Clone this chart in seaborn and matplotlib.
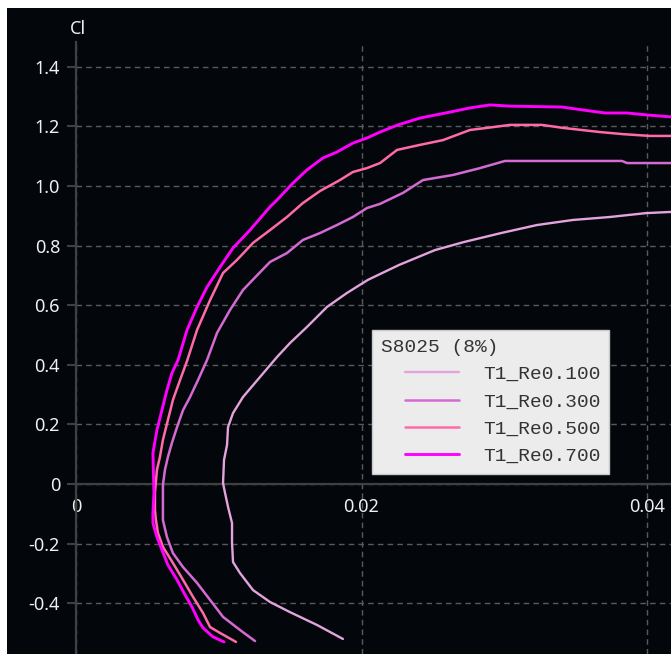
import numpy as np
import pandas as pd
import matplotlib
matplotlib.use("Agg")
import matplotlib.pyplot as plt
import seaborn as sns
from matplotlib.lines import Line2D
from matplotlib.patches import Rectangle
from matplotlib.legend_handler import HandlerLine2D
from matplotlib.font_manager import FontProperties

# ---------------- data (Cd, Cl) ----------------
series_labels = ["T1_Re0.100", "T1_Re0.300", "T1_Re0.500", "T1_Re0.700"]
series_colors = ["#e3a3dc", "#d46ad2", "#ff6aa8", "#ff00ff"]
legend_title = "S8025 (8%)"

cd_re100 = [0.01870, 0.01688, 0.01499, 0.01359, 0.01240, 0.01149, 0.01100, 0.01093, 0.01093,
            0.01065, 0.01044, 0.01030, 0.01037, 0.01058, 0.01065, 0.01100, 0.01170, 0.01289,
            0.01408, 0.01499, 0.01618, 0.01758, 0.01898, 0.02045, 0.02263, 0.02515, 0.02718,
            0.02977, 0.03229, 0.03481, 0.03741, 0.03993, 0.04168, 0.04350]
cl_re100 = [-0.520, -0.473, -0.430, -0.396, -0.356, -0.299, -0.262, -0.198, -0.131,
            -0.077, -0.030, 0.003, 0.081, 0.131, 0.191, 0.238, 0.292, 0.359,
            0.426, 0.473, 0.527, 0.594, 0.641, 0.685, 0.735, 0.785, 0.812,
            0.842, 0.869, 0.886, 0.896, 0.909, 0.913, 0.918]

cd_re300 = [0.01254, 0.01149, 0.01030, 0.00939, 0.00848, 0.00750, 0.00679, 0.00637, 0.00609,
            0.00609, 0.00609, 0.00623, 0.00644, 0.00672, 0.00708, 0.00750, 0.00799, 0.00855,
            0.00918, 0.00988, 0.01079, 0.01170, 0.01268, 0.01359, 0.01478, 0.01590, 0.01709,
            0.01828, 0.01940, 0.02038, 0.02130, 0.02291, 0.02431, 0.02641, 0.02830, 0.03005,
            0.03825, 0.03860, 0.04168, 0.04350]
cl_re300 = [-0.527, -0.490, -0.446, -0.389, -0.332, -0.279, -0.232, -0.178, -0.121,
            -0.064, -0.003, 0.047, 0.091, 0.138, 0.191, 0.248, 0.292, 0.349,
            0.416, 0.507, 0.584, 0.651, 0.700, 0.745, 0.775, 0.819, 0.842,
            0.869, 0.896, 0.926, 0.940, 0.977, 1.020, 1.037, 1.060, 1.084,
            1.084, 1.077, 1.077, 1.076]

cd_re500 = [0.01121, 0.01009, 0.00939, 0.00890, 0.00820, 0.00750, 0.00679, 0.00609, 0.00574,
            0.00560, 0.00553, 0.00553, 0.00567, 0.00588, 0.00609, 0.00644, 0.00679, 0.00729,
            0.00778, 0.00848, 0.00939, 0.01030, 0.01128, 0.01240, 0.01359, 0.01478, 0.01590,
            0.01709, 0.01849, 0.01940, 0.02038, 0.02130, 0.02249, 0.02410, 0.02571, 0.02760,
            0.02879, 0.03040, 0.03264, 0.03411, 0.03671, 0.03832, 0.04021, 0.04168, 0.04350]
cl_re500 = [-0.530, -0.500, -0.480, -0.433, -0.379, -0.322, -0.265, -0.211, -0.164,
            -0.121, -0.087, -0.030, 0.047, 0.091, 0.148, 0.215, 0.282, 0.349,
            0.413, 0.517, 0.617, 0.708, 0.752, 0.809, 0.852, 0.896, 0.943,
            0.983, 1.020, 1.047, 1.060, 1.077, 1.121, 1.138, 1.154, 1.188,
            1.195, 1.205, 1.205, 1.195, 1.181, 1.174, 1.168, 1.168, 1.164]

cd_re700 = [0.01037, 0.00960, 0.00890, 0.00855, 0.00813, 0.00764, 0.00708, 0.00644, 0.00602,
            0.00567, 0.00539, 0.00539, 0.00546, 0.00539, 0.00567, 0.00602, 0.00637, 0.00672,
            0.00715, 0.00778, 0.00848, 0.00918, 0.01009, 0.01100, 0.01219, 0.01359, 0.01408,
            0.01520, 0.01618, 0.01730, 0.01828, 0.01940, 0.02038, 0.02130, 0.02256, 0.02410,
            0.02620, 0.02760, 0.02900, 0.03040, 0.03404, 0.03552, 0.03706, 0.03860, 0.04007,
            0.04168, 0.04350]
cl_re700 = [-0.530, -0.513, -0.483, -0.456, -0.413, -0.372, -0.322, -0.272, -0.221,
            -0.178, -0.131, -0.097, -0.030, 0.104, 0.181, 0.248, 0.315, 0.372,
            0.416, 0.517, 0.594, 0.661, 0.728, 0.792, 0.852, 0.930, 0.953,
            1.010, 1.054, 1.094, 1.114, 1.144, 1.161, 1.181, 1.205, 1.228,
            1.248, 1.262, 1.272, 1.268, 1.265, 1.255, 1.245, 1.245, 1.238,
            1.232, 1.225]

y_ticks = [-0.4, -0.2, 0, 0.2, 0.4, 0.6, 0.8, 1.0, 1.2, 1.4]
y_ticklabels = ["-0.4", "-0.2", "0", "0.2", "0.4", "0.6", "0.8", "1.0", "1.2", "1.4"]
x_ticks = [0, 0.02, 0.04]
x_ticklabels = ["0", "0.02", "0.04"]

series = [(cd_re100, cl_re100), (cd_re300, cl_re300), (cd_re500, cl_re500), (cd_re700, cl_re700)]
widths = [1.7, 1.8, 1.8, 2.1]

# ---------------- styling ----------------
BG = "#03070c"
sns.set_style("dark")
plt.rcParams["font.family"] = ["Noto Sans", "DejaVu Sans"]

W, H = 671, 654
fig = plt.figure(figsize=(W / 100, H / 100), dpi=100, facecolor=BG)
ax = fig.add_axes([76 / W, 0, (W - 76) / W, (H - 42) / H])
ax.set_facecolor(BG)

for (cd, cl), lab, col, lw in zip(series, series_labels, series_colors, widths):
    df = pd.DataFrame({"Cd": cd, "Cl": cl})
    sns.lineplot(data=df, x="Cd", y="Cl", sort=False, estimator=None, color=col,
                 linewidth=lw, label=lab, ax=ax, zorder=3)

ax.set_xlim(0, 0.041681)
ax.set_ylim(-0.5705, 1.4832)
ax.set_xlabel("")
ax.set_ylabel("")

ax.set_yticks(y_ticks)
ax.set_yticklabels(y_ticklabels)
ax.set_xticks(x_ticks)
ax.set_xticklabels(x_ticklabels)

for s in ["top", "right"]:
    ax.spines[s].set_visible(False)
ax.spines["bottom"].set_position(("data", 0))
for s in ["left", "bottom"]:
    ax.spines[s].set_color("#404040")
    ax.spines[s].set_linewidth(1.6)
    ax.spines[s].set_zorder(2.5)

ax.tick_params(axis="y", length=6.5, width=1.5, color="#404040", pad=5,
               labelsize=13, labelcolor="#f0f0f0", direction="out", left=True)
ax.tick_params(axis="x", length=0, pad=10, labelsize=13, labelcolor="#f0f0f0", bottom=True)

ax.grid(True, color="#5a5a5a", linestyle=(0, (4, 3)), linewidth=1.0)
ax.set_axisbelow(True)

fig.text(78 / W, 1 - 29 / H, "Cl", ha="center", va="center", color="#f0f0f0", fontsize=13)

# white strips (top and left) as in the reference capture
fig.add_artist(Rectangle((0, 1 - 8 / H), 1, 8 / H, transform=fig.transFigure,
                         facecolor="white", edgecolor="none", zorder=10))
fig.add_artist(Rectangle((0, 0), 7 / W, 1, transform=fig.transFigure,
                         facecolor="white", edgecolor="none", zorder=10))


class PadHandler(HandlerLine2D):
    def get_xdata(self, legend, xdescent, ydescent, width, height, fontsize):
        x0 = -xdescent + width * 24 / 78
        x1 = -xdescent + width
        xd = np.array([x0, x1])
        return xd, xd


fs = 14
fs_px = fs * 100 / 72
mono = FontProperties(family="Liberation Mono", size=fs)
handles, labels = ax.get_legend_handles_labels()
leg = ax.legend(handles, labels, loc="upper left",
                bbox_to_anchor=(372 / W, 1 - 330 / H), bbox_transform=fig.transFigure,
                borderaxespad=0, prop=mono, title=legend_title, title_fontproperties=mono,
                alignment="left", handlelength=78 / fs_px, handletextpad=24 / fs_px,
                borderpad=0.45, labelspacing=0.5, frameon=True, fancybox=False,
                handler_map={Line2D: PadHandler()}, labelcolor="#333333")
leg.get_title().set_color("#333333")
fr = leg.get_frame()
fr.set_facecolor("#ececec")
fr.set_edgecolor("#c8c8c8")
fr.set_alpha(1)
fr.set_linewidth(1)
leg.set_zorder(5)

fig.savefig("out.png", dpi=100, facecolor=BG)
